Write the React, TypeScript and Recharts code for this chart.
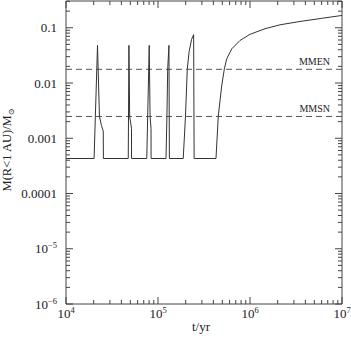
import { LineChart, Line, XAxis, YAxis, ReferenceLine, Label } from 'recharts';

// time (yr) and enclosed mass M(R<1 AU) in solar masses
const times = [
  1e4, 20200, 22000, 23100, 24300, 25400, 25500,
  47500, 48300, 49200, 51500, 51600,
  75500, 80300, 82000, 84000, 84100,
  122200, 125000, 127500, 131500, 133000,
  188000, 199000, 208000, 218000, 232000, 244000, 247000,
  427000, 452000, 492000, 526000, 558000, 633000, 778000,
  1000000, 1455000, 2118000, 3490000, 6000000, 1e7,
];
const masses = [
  4.3e-4, 4.3e-4, 0.048, 0.0025, 0.0017, 0.00135, 4.3e-4,
  4.3e-4, 0.048, 0.0025, 0.0015, 4.3e-4,
  4.3e-4, 0.048, 0.0025, 0.0015, 4.3e-4,
  4.3e-4, 0.0025, 0.018, 0.048, 4.3e-4,
  4.3e-4, 0.0025, 0.0177, 0.037, 0.062, 0.075, 4.3e-4,
  4.3e-4, 0.0025, 0.0088, 0.018, 0.0273, 0.0415, 0.0588,
  0.076, 0.096, 0.113, 0.13, 0.148, 0.167,
];

const MMEN = 0.0177;
const MMSN = 0.00248;

const xMajor = [1e4, 1e5, 1e6, 1e7];
const xMajorSup = ['4', '5', '6', '7'];
const yMajor = [1e-6, 1e-5, 1e-4, 1e-3, 1e-2, 1e-1];
const yMajorText = ['10', '10', '0.0001', '0.001', '0.01', '0.1'];
const yMajorSup = ['\u22126', '\u22125', '', '', '', ''];

const X_DOMAIN = [1e4, 1e7];
const Y_DOMAIN = [1e-6, 0.305];

const minorOf = (decades: number[], max: number) => {
  const out: number[] = [];
  decades.forEach((d) => {
    for (let k = 2; k <= 9; k++) if (d * k <= max) out.push(d * k);
  });
  return out;
};
const xTicks = [...xMajor, ...minorOf([1e4, 1e5, 1e6], 1e7)].sort((a, b) => a - b);
const yTicks = [...yMajor, ...minorOf([1e-6, 1e-5, 1e-4, 1e-3, 1e-2, 1e-1], 0.305)].sort((a, b) => a - b);

const data = times.map((t, i) => ({ t, m: masses[i] }));

const W = 351;
const H = 338;
const TOP = 1;
const RIGHT = 9;
const YW = 66;
const XH = 34;
const PLOT_W = W - YW - RIGHT;
const PLOT_H = H - TOP - XH;

const FONT = '"Liberation Serif", "DejaVu Serif", serif';
const AXIS = '#444';
const TXT = '#222';

const isMajor = (v: number, list: number[]) => list.findIndex((m) => Math.abs(m - v) / m < 1e-6);

const XTick = (props: any) => {
  const { x, y, payload } = props;
  const idx = isMajor(payload.value, xMajor);
  const len = idx >= 0 ? 7 : 4;
  return (
    <g>
      <line x1={x} x2={x} y1={y} y2={y - len} stroke={AXIS} />
      <line x1={x} x2={x} y1={y - PLOT_H} y2={y - PLOT_H + len} stroke={AXIS} />
      {idx >= 0 && (
        <text x={x} y={y + 14} textAnchor="middle" fontFamily={FONT} fontSize={13} fill={TXT}>
          <tspan>10</tspan>
          <tspan dy={-5} fontSize={8.5}>{xMajorSup[idx]}</tspan>
        </text>
      )}
    </g>
  );
};

const YTick = (props: any) => {
  const { x, y, payload } = props;
  const idx = isMajor(payload.value, yMajor);
  const len = idx >= 0 ? 7 : 4;
  return (
    <g>
      <line x1={x} x2={x + len} y1={y} y2={y} stroke={AXIS} />
      <line x1={x + PLOT_W} x2={x + PLOT_W - len} y1={y} y2={y} stroke={AXIS} />
      {idx >= 0 && (
        <text x={x - 9} y={y} dy="0.35em" textAnchor="end" fontFamily={FONT} fontSize={13} fill={TXT}>
          <tspan>{yMajorText[idx]}</tspan>
          {yMajorSup[idx] && (
            <tspan dy={-5} fontSize={8.5}>{yMajorSup[idx]}</tspan>
          )}
        </text>
      )}
    </g>
  );
};

const YTitle = () => (
  <text
    transform={`translate(11, 150) rotate(-90)`}
    textAnchor="middle"
    fontFamily={FONT}
    fontSize={12.5}
    fill={TXT}
  >
    <tspan>M(R&lt;1 AU)/M</tspan>
    <tspan dy={3} fontSize={8}>{'\u2299'}</tspan>
  </text>
);

const XTitle = () => (
  <text x={201} y={331} textAnchor="middle" fontFamily={FONT} fontSize={13} fill={TXT}>
    t/yr
  </text>
);

const refLabel = (text: string) => (props: any) => {
  const { viewBox } = props;
  return (
    <text x={viewBox.x + viewBox.width - 12} y={viewBox.y - 4} textAnchor="end" fontFamily={FONT} fontSize={10} fill={TXT}>
      {text}
    </text>
  );
};

export default function App() {
  return (
    <div style={{ position: 'absolute', left: 0, top: 0 }}>
      <LineChart width={W} height={H} data={data} margin={{ top: TOP, right: RIGHT, left: 0, bottom: 0 }}>
        <XAxis
          dataKey="t"
          type="number"
          scale="log"
          domain={X_DOMAIN}
          allowDataOverflow
          ticks={xTicks}
          interval={0}
          tick={<XTick />}
          tickLine={false}
          tickSize={0}
          tickMargin={0}
          height={XH}
          axisLine={{ stroke: AXIS }}
        >
          <Label content={<XTitle />} />
        </XAxis>
        <YAxis
          dataKey="m"
          type="number"
          scale="log"
          domain={Y_DOMAIN}
          allowDataOverflow
          ticks={yTicks}
          interval={0}
          tick={<YTick />}
          tickLine={false}
          tickSize={0}
          tickMargin={0}
          width={YW}
          axisLine={{ stroke: AXIS }}
        >
          <Label content={<YTitle />} />
        </YAxis>
        <ReferenceLine x={X_DOMAIN[1]} stroke={AXIS} />
        <ReferenceLine y={Y_DOMAIN[1]} stroke={AXIS} />
        <ReferenceLine y={MMEN} stroke="#555" strokeDasharray="6 4" label={refLabel('MMEN')} />
        <ReferenceLine y={MMSN} stroke="#555" strokeDasharray="6 4" label={refLabel('MMSN')} />
        <Line dataKey="m" type="linear" stroke="#333" strokeWidth={1} dot={false} isAnimationActive={false} />
      </LineChart>
    </div>
  );
}
